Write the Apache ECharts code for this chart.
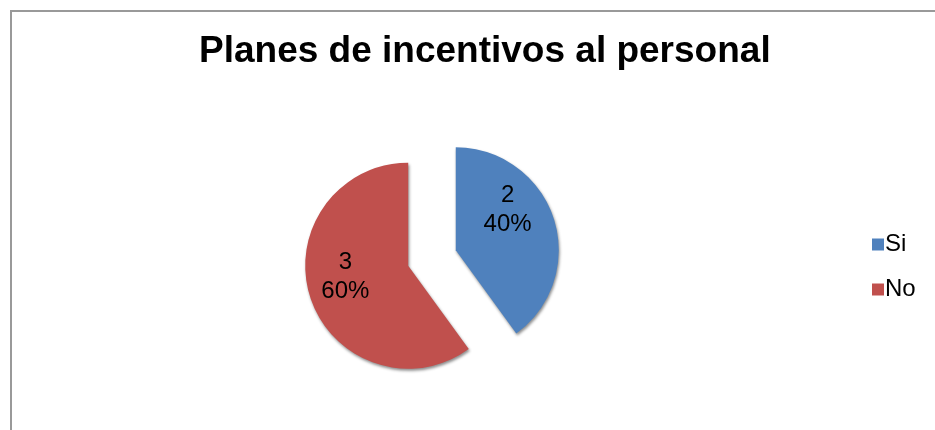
<!DOCTYPE html>
<html>
<head>
<meta charset="utf-8">
<script src="https://cdn.jsdelivr.net/npm/echarts@6/dist/echarts.min.js"></script>
<style>
  html, body { margin: 0; padding: 0; background: #fff; }
  #chart { width: 935px; height: 430px; }
</style>
</head>
<body>
<div id="chart"></div>
<script>
// datos
var categories = ["Si", "No"];
var values = [2, 3];
var colors = ["#4F81BD", "#C0504D"];
// ajuste de etiquetas dentro de cada porcion
var labelShift = [[0, -24], [-11, -6]];

var myChart = echarts.init(document.getElementById("chart"));

var pieData = categories.map(function (name, i) {
  return {
    name: name,
    value: values[i],
    selected: true,
    itemStyle: { color: colors[i] },
  };
});

var option = {
  animation: false,
  title: {
    text: "Planes de incentivos al personal",
    left: 194,
    top: 28,
    textStyle: {
      color: "#000",
      fontFamily: "Liberation Sans, Arial, sans-serif",
      fontSize: 37,
      fontWeight: "bold",
    },
  },
  legend: {
    orient: "vertical",
    left: 867,
    top: 226,
    icon: "rect",
    itemWidth: 12,
    itemHeight: 12,
    itemGap: 18,
    selectedMode: false,
    data: categories,
    textStyle: {
      color: "#000",
      fontFamily: "Liberation Sans, Arial, sans-serif",
      fontSize: 24,
      lineHeight: 27,
      padding: [0, 0, 0, -4],
    },
  },
  graphic: [
    {
      type: "rect",
      shape: { x: 11, y: 11, width: 1000, height: 600 },
      style: { fill: "none", stroke: "#999", lineWidth: 2 },
      silent: true,
    },
  ],
  series: [
    {
      type: "pie",
      center: [432, 258],
      radius: 103,
      startAngle: 90,
      clockwise: true,
      selectedMode: "multiple",
      selectedOffset: 25,
      emphasis: { disabled: true },
      itemStyle: {
        shadowBlur: 3,
        shadowOffsetX: 1,
        shadowOffsetY: 2,
        shadowColor: "rgba(0,0,0,0.45)",
      },
      label: {
        show: true,
        position: "inside",
        formatter: "{c}\n{d}%",
        color: "#000",
        fontFamily: "Liberation Sans, Arial, sans-serif",
        fontSize: 24,
        lineHeight: 29,
      },
      labelLine: { show: false },
      labelLayout: function (params) {
        var s = labelShift[params.dataIndex];
        return { dx: s[0], dy: s[1] };
      },
      data: pieData,
    },
  ],
};

myChart.setOption(option);
</script>
</body>
</html>
